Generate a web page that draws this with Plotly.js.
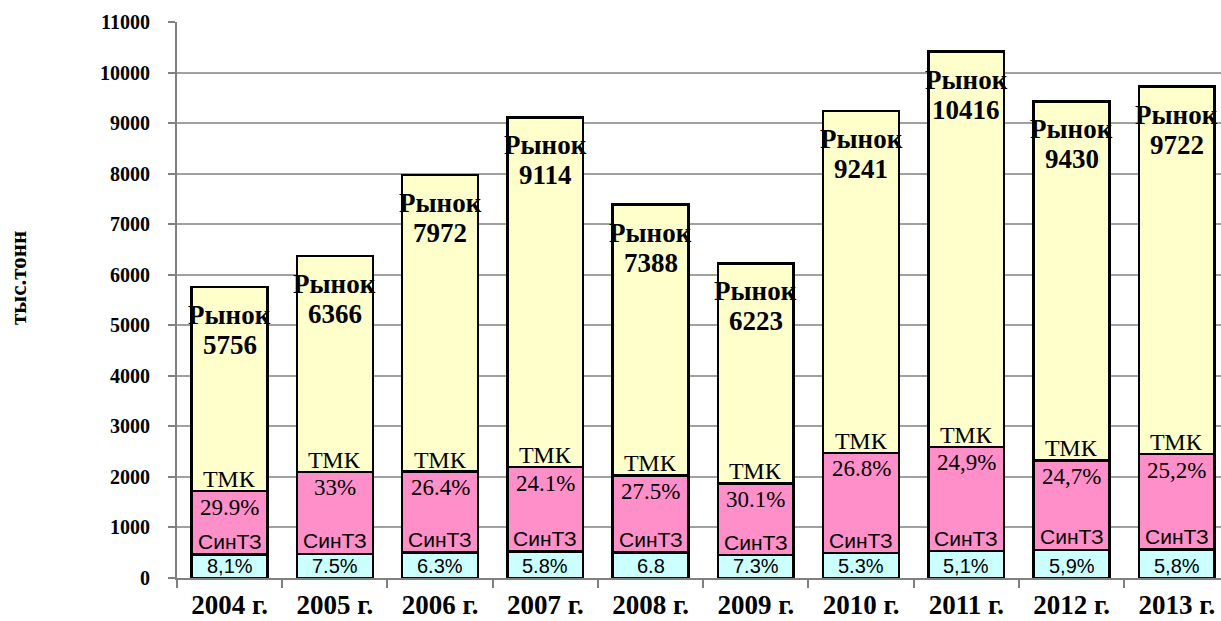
<!DOCTYPE html>
<html>
<head>
<meta charset="utf-8">
<script src="https://cdn.plot.ly/plotly-3.0.1.min.js"></script>
<style>html,body{margin:0;padding:0;background:#fff;}#chart{width:1221px;height:621px;}</style>
</head>
<body>
<div id="chart"></div>
<script>
// Data
var years = ['2004 г.','2005 г.','2006 г.','2007 г.','2008 г.','2009 г.','2010 г.','2011 г.','2012 г.','2013 г.'];
var market = [5756, 6366, 7972, 9114, 7388, 6223, 9241, 10416, 9430, 9722];
var tmk = [1721, 2101, 2105, 2196, 2032, 1873, 2477, 2594, 2329, 2450];
var sintz = [466, 477, 502, 529, 502, 454, 490, 531, 556, 564];
var tmkPct = ['29.9%','33%','26.4%','24.1%','27.5%','30.1%','26.8%','24,9%','24,7%','25,2%'];
var sintzPct = ['8,1%','7.5%','6.3%','5.8%','6.8','7.3%','5.3%','5,1%','5,9%','5,8%'];
var marketLabel = 'Рынок';
var tmkLabel = 'ТМК';
var sintzLabel = 'СинТЗ';
var yTitle = 'тыс.тонн';

var tmkOnly = tmk.map(function(v,i){return v - sintz[i];});
var rest = market.map(function(v,i){return v - tmk[i];});

var line = {color:'#000000', width:2.5};
var traces = [
  {type:'bar', x:years, y:sintz, marker:{color:'#CCFFFF', line:line}, hoverinfo:'skip'},
  {type:'bar', x:years, y:tmkOnly, marker:{color:'#FF8FC8', line:line}, hoverinfo:'skip'},
  {type:'bar', x:years, y:rest, marker:{color:'#FFFFCC', line:line}, hoverinfo:'skip'}
];

var serif = 'Liberation Serif, Times New Roman, serif';
var sans = 'Liberation Sans, Arial, sans-serif';
var ann = [];
years.forEach(function(c,i){
  ann.push({x:c, y:market[i], yanchor:'middle', yshift:-28, text:marketLabel, showarrow:false,
    font:{family:serif, size:27, weight:700, color:'#000'}});
  ann.push({x:c, y:market[i], yanchor:'middle', yshift:-58, text:String(market[i]), showarrow:false,
    font:{family:serif, size:27, weight:700, color:'#000'}});
  ann.push({x:c, y:tmk[i], yanchor:'middle', yshift:12, text:tmkLabel, showarrow:false,
    font:{family:serif, size:24, color:'#000'}});
  ann.push({x:c, y:tmk[i], yanchor:'middle', yshift:-16, text:tmkPct[i], showarrow:false,
    font:{family:serif, size:23, color:'#000'}});
  ann.push({x:c, y:sintz[i], yanchor:'middle', yshift:13, text:sintzLabel, showarrow:false,
    font:{family:sans, size:21, color:'#000'}});
  ann.push({x:c, y:0, yanchor:'middle', yshift:12, text:sintzPct[i], showarrow:false,
    font:{family:sans, size:20, color:'#000'}});
});
ann.push({xref:'paper', yref:'paper', x:-0.1513, y:0.5396, xanchor:'center', yanchor:'middle',
  textangle:-90, text:yTitle, showarrow:false, font:{family:serif, size:23, weight:700, color:'#000'}});

var layout = {
  width:1221, height:621,
  margin:{l:177, r:0, t:22, b:43},
  paper_bgcolor:'#ffffff', plot_bgcolor:'#ffffff',
  barmode:'stack', bargap:0.28, showlegend:false,
  xaxis:{type:'category', range:[-0.5, 9.42], tickson:'boundaries', ticks:'outside', ticklen:8,
    tickcolor:'#808080', tickwidth:2, showline:true, linecolor:'#808080', linewidth:2,
    showgrid:false, tickfont:{family:serif, size:27, weight:700, color:'#000'}, ticklabelstandoff:2},
  yaxis:{range:[0,11000], dtick:1000, tickformat:'d', gridcolor:'#a0a0a0', gridwidth:2,
    showline:true, linecolor:'#808080', linewidth:2, ticks:'outside', ticklen:7, tickcolor:'#808080', tickwidth:2,
    zeroline:false, tickfont:{family:serif, size:20, weight:700, color:'#000'}, ticklabelstandoff:14},
  annotations:ann
};
Plotly.newPlot('chart', traces, layout, {displayModeBar:false, staticPlot:true});
</script>
</body>
</html>
